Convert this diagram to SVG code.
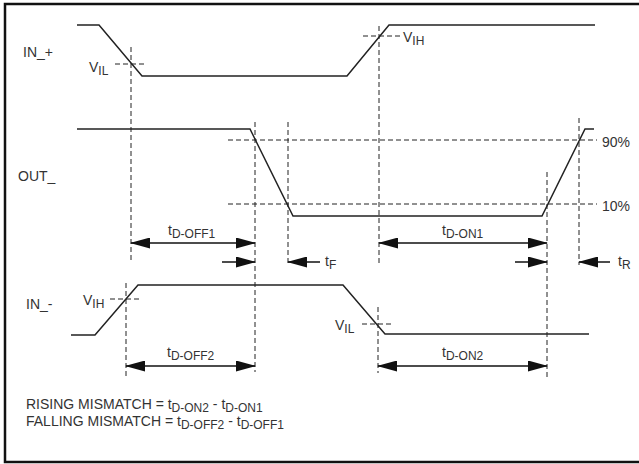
<svg xmlns="http://www.w3.org/2000/svg" width="639" height="464" viewBox="0 0 639 464">
<defs>
<style>
.bd{fill:none;stroke:#111;stroke-width:2.5}
.w{fill:none;stroke:#222;stroke-width:1.5;stroke-linejoin:miter}
.d{fill:none;stroke:#222;stroke-width:1;stroke-dasharray:5,3}
.a{fill:none;stroke:#111;stroke-width:1.5}
text{font-family:"Liberation Sans",Arial,sans-serif;font-size:14px;fill:#333}
.s{font-size:12px}
</style>
<marker id="ah" markerUnits="userSpaceOnUse" markerWidth="20" markerHeight="11" refX="19" refY="5.5" orient="auto-start-reverse">
<path d="M0,0 L20,5.5 L0,11 z" fill="#111"/>
</marker>
</defs>
<rect class="bd" x="5" y="4" width="640" height="458"/>

<g id="in-plus">
<polyline class="w" points="77,25 99,25 142,76 347,76 389,25 595,25"/>
<text x="23" y="57">IN_+</text>
<text x="89" y="72">V<tspan class="s" dy="3">IL</tspan></text>
<text x="403" y="42">V<tspan class="s" dy="3">IH</tspan></text>
</g>

<g id="out">
<polyline class="w" points="77,129 250,129 293,216 542,216 585,129 594,129"/>
<text x="18" y="181">OUT_</text>
<text x="602" y="147">90%</text>
<text x="602" y="211">10%</text>
</g>

<g id="in-minus">
<polyline class="w" points="71,335 95,335 138,285 343,285 385,334 589,334"/>
<text x="26" y="309">IN_-</text>
<text x="83" y="305">V<tspan class="s" dy="3">IH</tspan></text>
<text x="335" y="330">V<tspan class="s" dy="3">IL</tspan></text>
</g>

<g id="guides">
<line class="d" x1="131" y1="47" x2="131" y2="263"/>
<line class="d" x1="379" y1="26" x2="379" y2="265"/>
<line class="d" x1="255" y1="122" x2="255" y2="372"/>
<line class="d" x1="288" y1="122" x2="288" y2="265"/>
<line class="d" x1="547" y1="172" x2="547" y2="377"/>
<line class="d" x1="579" y1="118" x2="579" y2="265"/>
<line class="d" x1="126" y1="283" x2="126" y2="377"/>
<line class="d" x1="378" y1="307" x2="378" y2="373"/>
<line class="d" x1="115" y1="64" x2="147" y2="64"/>
<line class="d" x1="363" y1="36" x2="400" y2="36"/>
<line class="d" x1="228" y1="140" x2="597" y2="140"/>
<line class="d" x1="228" y1="204" x2="597" y2="204"/>
<line class="d" x1="110" y1="299" x2="142" y2="299"/>
<line class="d" x1="362" y1="324" x2="393" y2="324"/>
</g>

<g id="connectors">
<line class="a" x1="131" y1="243" x2="255" y2="243" marker-start="url(#ah)" marker-end="url(#ah)"/>
<line class="a" x1="379" y1="243" x2="547" y2="243" marker-start="url(#ah)" marker-end="url(#ah)"/>
<line class="a" x1="222" y1="262" x2="255" y2="262" marker-end="url(#ah)"/>
<line class="a" x1="320" y1="262" x2="288" y2="262" marker-end="url(#ah)"/>
<line class="a" x1="515" y1="262" x2="547" y2="262" marker-end="url(#ah)"/>
<line class="a" x1="610" y1="262" x2="579" y2="262" marker-end="url(#ah)"/>
<line class="a" x1="126" y1="366" x2="255" y2="366" marker-start="url(#ah)" marker-end="url(#ah)"/>
<line class="a" x1="378" y1="366" x2="547" y2="366" marker-start="url(#ah)" marker-end="url(#ah)"/>
</g>

<g id="labels">
<text x="168" y="235">t<tspan class="s" dy="3">D-OFF1</tspan></text>
<text x="442" y="235">t<tspan class="s" dy="3">D-ON1</tspan></text>
<text x="325" y="266">t<tspan class="s" dy="3">F</tspan></text>
<text x="618" y="266">t<tspan class="s" dy="3">R</tspan></text>
<text x="167" y="357">t<tspan class="s" dy="3">D-OFF2</tspan></text>
<text x="442" y="357">t<tspan class="s" dy="3">D-ON2</tspan></text>
<text x="26" y="409">RISING MISMATCH = t<tspan class="s" dy="3">D-ON2</tspan><tspan dy="-3"> - t</tspan><tspan class="s" dy="3">D-ON1</tspan></text>
<text x="26" y="426">FALLING MISMATCH = t<tspan class="s" dy="3">D-OFF2</tspan><tspan dy="-3"> - t</tspan><tspan class="s" dy="3">D-OFF1</tspan></text>
</g>
</svg>
